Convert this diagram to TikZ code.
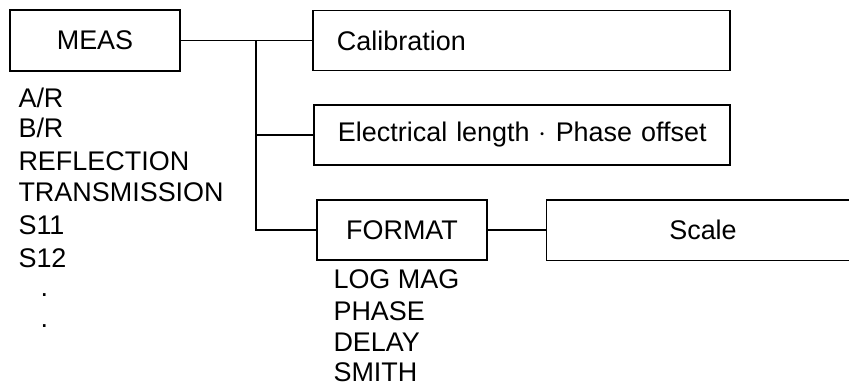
\documentclass[tikz,border=0pt]{standalone}
\usepackage{fontspec}
\setmainfont{Liberation Sans}
\usepackage{tikz}
\usetikzlibrary{calc, positioning}
\newcommand{\menufont}{\fontsize{23}{27}\selectfont}

\begin{document}
\begin{tikzpicture}[x=0.03cm, y=-0.03cm, line width=0.9pt,
        box/.style={draw, minimum height=1.8cm, inner sep=0pt, font=\menufont},
        leftbox/.style={box, align=left, inner xsep=0.72cm},
        item/.style={anchor=base west, inner sep=0pt, font=\menufont}]

        \useasboundingbox (0,0) rectangle (849,385);
        \coordinate (edge) at (849,0);

        \node[box, minimum width=5.1cm, minimum height=1.83cm] (meas) at (95,40.5) {MEAS};
        \node[leftbox, text width=11.07cm] (cal)  at (521.5,40.5) {Calibration};
        \node[leftbox, text width=11.04cm] (elec) at (522,135)  {\mbox{Electrical length $\cdot$ Phase offset}};
        \node[box, minimum width=5.1cm]    (fmt)  at (402,230)  {FORMAT};
        \node[font=\menufont, minimum width=9.36cm, minimum height=1.77cm] (scale) at (703,230) {Scale};

        % measurement list
        \node[item] (ar)    at (18,107) {A/R};
        \node[item] (br)    at (18,137) {B/R};
        \node[item] (refl)  at (18,170) {REFLECTION};
        \node[item] (trans) at (18,201) {TRANSMISSION};
        \node[item] (s11)   at (18,234) {S11};
        \node[item] (s12)   at (18,267) {S12};
        \node[item] (dota)  at (40,296) {.};
        \node[item] (dotb)  at (40,327) {.};

        % format list
        \node[item] (logmag) at (333,288) {LOG MAG};
        \node[item] (phase)  at (333,320) {PHASE};
        \node[item] (delay)  at (333,351) {DELAY};
        \node[item] (smith)  at (333,381) {SMITH};

        \coordinate (split) at (256,40.5);
        \draw (meas.east) -- (cal.west);
        \draw (split) |- (elec.west);
        \draw (split) |- (fmt.west);
        \draw (fmt.east) -- (scale.west);
        \draw (scale.north west -| edge) -- (scale.north west) -- (scale.south west) -- (scale.south west -| edge);
      \end{tikzpicture}
\end{document}
